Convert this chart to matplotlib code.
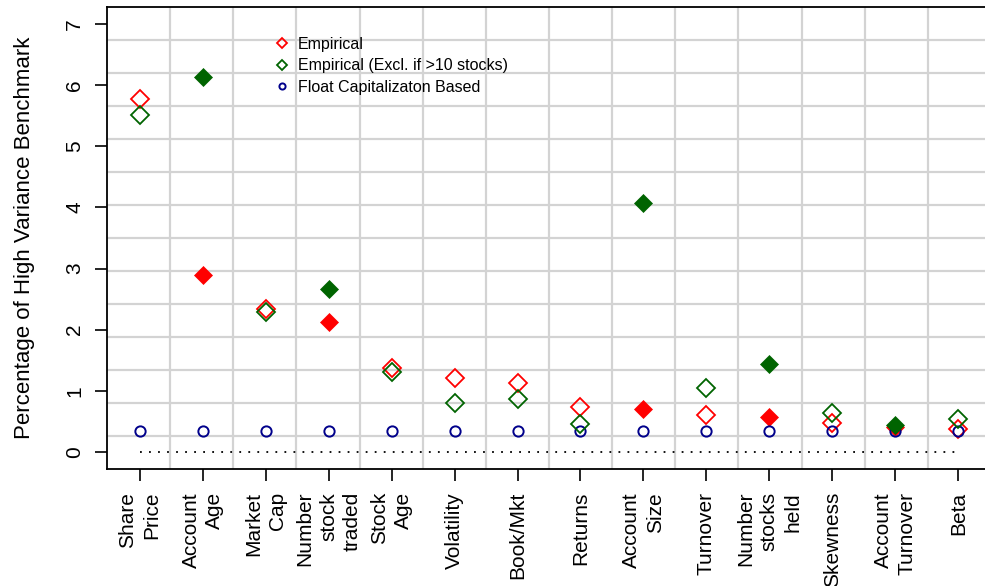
import matplotlib.pyplot as plt
import numpy as np

plt.rcParams['font.family'] = ['Liberation Sans', 'DejaVu Sans']

categories = ["Share\nPrice", "Account\nAge", "Market\nCap", "Number\nstock\ntraded",
              "Stock\nAge", "Volatility", "Book/Mkt", "Returns", "Account\nSize",
              "Turnover", "Number\nstocks\nheld", "Skewness", "Account\nTurnover", "Beta"]

empirical = [5.77, 2.89, 2.34, 2.12, 1.38, 1.21, 1.13, 0.74, 0.71, 0.60, 0.57, 0.47, 0.40, 0.38]
empirical_excl = [5.52, 6.13, 2.29, 2.67, 1.30, 0.80, 0.86, 0.46, 4.08, 1.05, 1.44, 0.64, 0.44, 0.54]
float_cap = [0.34, 0.34, 0.34, 0.34, 0.34, 0.34, 0.34, 0.34, 0.34, 0.34, 0.34, 0.34, 0.34, 0.34]
# filled symbols mark the significant characteristics
significant = [False, True, False, True, False, False, False, False, True, False, True, False, True, False]

RED = '#FF0000'
GREEN = '#006400'
BLUE = '#00008B'
GRID = '#D3D3D3'

fig = plt.figure(figsize=(9.85, 5.86), dpi=100)
ax = fig.add_axes([107 / 985, 117 / 586, 884 / 985, 462 / 586])

x = np.arange(1, len(categories) + 1)
sig = np.array(significant)
xlim = (0.48, 14.52)
ylim = (-0.28, 7.28)
ax.set_xlim(*xlim)
ax.set_ylim(*ylim)

# 14 x 14 grid cells
for gx in np.linspace(xlim[0], xlim[1], 15)[1:-1]:
    ax.axvline(gx, color=GRID, lw=1.6, zorder=0)
for gy in np.linspace(ylim[0], ylim[1], 15)[1:-1]:
    ax.axhline(gy, color=GRID, lw=1.6, zorder=0)

ax.plot([x[0], x[-1]], [0, 0], ls=(0, (1, 4)), color='black', lw=1.3, zorder=1)


def draw(vals, color, label, z):
    vals = np.array(vals)
    h, = ax.plot(x[~sig], vals[~sig], 'D', ms=9.3, mfc='none', mec=color,
                 mew=1.3, label=label, zorder=z)
    ax.plot(x[sig], vals[sig], 'D', ms=9.0, mfc=color, mec=color, mew=0.5, zorder=z)
    return h


h_red = draw(empirical, RED, 'Empirical', 3)
h_blue, = ax.plot(x, float_cap, 'o', ms=7.4, mfc='none', mec=BLUE, mew=1.4,
                  label='Float Capitalizaton Based', zorder=4)
h_green = draw(empirical_excl, GREEN, 'Empirical (Excl. if >10 stocks)', 5)

for side in ['left', 'bottom', 'top', 'right']:
    ax.spines[side].set_linewidth(1.3)
    ax.spines[side].set_color('black')

ax.set_xticks(x)
ax.set_xticklabels(categories, rotation=90, fontsize=15, multialignment='right',
                   linespacing=1.3)
ax.set_yticks(range(0, 8))
ax.tick_params(axis='both', length=8.5, width=1.2, color='black')
ax.tick_params(axis='x', pad=8)
ax.tick_params(axis='y', labelrotation=90, labelsize=15, pad=8)
for lab in ax.get_yticklabels():
    lab.set_verticalalignment('center')
ax.set_ylabel('Percentage of High Variance Benchmark', fontsize=16, labelpad=22)

ax.legend(handles=[h_red, h_green, h_blue], loc='upper left',
          bbox_to_anchor=(274 / 985, 1 - 37 / 586), bbox_transform=fig.transFigure,
          frameon=False, fontsize=11.5, markerscale=0.6, handlelength=1.0,
          handletextpad=0.5, labelspacing=0.4, borderpad=0, borderaxespad=0,
          numpoints=1)

fig.savefig('out.png', dpi=100)
